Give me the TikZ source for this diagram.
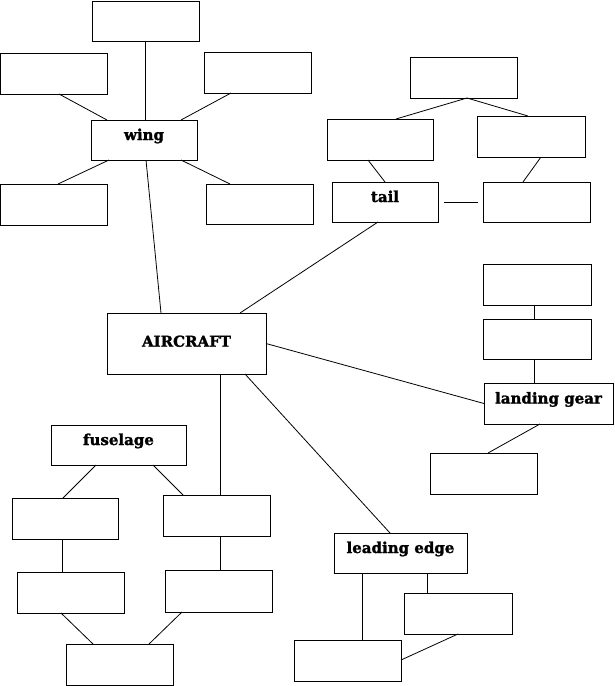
\documentclass[tikz,border=0pt]{standalone}
\usepackage{fontspec}
\setmainfont{DejaVu Serif}[BoldFeatures={FakeBold=1.6}]
\newcommand\bxn[7][]{\node[box,#1,minimum width={(#5-#3)*1pt},minimum height={(#6-#4)*1pt}] (#2) at ({(#3+#5)/2},{(#4+#6)/2}) {#7};}
\begin{document}
\begin{tikzpicture}[x=1pt,y=-1pt,
  box/.style={draw=black,line width=0.8pt,inner sep=0pt,outer sep=0pt,
    font=\fontsize{15}{17}\selectfont\bfseries,text height=5pt,text depth=5pt},
  capl/.style={text height=8pt,text depth=1.6pt},
  conn/.style={draw=black,line width=0.8pt}]
\useasboundingbox (0,0) rectangle (614,686);
% wing group
\bxn{wtop}{92}{1}{199}{41}{}
\bxn{wul}{0.5}{53}{107}{94}{}
\bxn{wur}{204}{52}{311}{93}{}
\bxn{wing}{91}{120}{197}{160}{wing}
\bxn{wll}{0.5}{184}{107}{225}{}
\bxn{wlr}{206}{184}{313}{224}{}
% tail group
\bxn{ttop}{410}{57}{517}{98}{}
\bxn{tml}{327}{119}{433}{160}{}
\bxn{tmr}{477}{116}{585}{157}{}
\bxn{tail}{332}{182}{438}{222}{tail}
\bxn{tlr}{483}{182}{590}{222}{}
% aircraft
\bxn[capl]{air}{107}{313}{266}{374}{AIRCRAFT}
% landing gear group
\bxn{gtop}{483}{264}{591}{305}{}
\bxn{gmid}{483}{319}{591}{359}{}
\bxn{gear}{484}{383}{613}{424}{landing gear}
\bxn{glow}{430}{453}{537}{494}{}
% fuselage group
\bxn{fus}{51}{425}{186}{465}{fuselage}
\bxn{fl1}{12}{498}{118}{539}{}
\bxn{fr1}{163}{495}{270}{536}{}
\bxn{fl2}{17}{572}{124}{613}{}
\bxn{fr2}{165}{570}{272}{612}{}
\bxn{fbot}{66}{644}{173}{685}{}
% leading edge group
\bxn{lead}{334}{533}{467}{573}{leading edge}
\bxn{lr}{404}{593}{512}{634}{}
\bxn{lbot}{294}{640}{401}{681}{}
% connectors
\path[conn] (wtop.south) -- (wtop.south |- wing.north);
\path[conn] ([xshift=58.5pt]wul.south west) -- ([xshift=16pt]wing.north west);
\path[conn] ([xshift=27pt]wur.south west) -- ([xshift=90pt]wing.north west);
\path[conn] ([xshift=18pt]wing.south west) -- ([xshift=57.5pt]wll.north west);
\path[conn] ([xshift=90pt]wing.south west) -- ([xshift=24pt]wlr.north west);
\path[conn] ([xshift=55pt]wing.south west) -- ([xshift=54pt]air.north west);
\path[conn] ([xshift=57pt]ttop.south west) -- ([xshift=69pt]tml.north west);
\path[conn] ([xshift=57pt]ttop.south west) -- ([xshift=51pt]tmr.north west);
\path[conn] ([xshift=41pt]tml.south west) -- ([xshift=53pt]tail.north west);
\path[conn] ([xshift=64pt]tmr.south west) -- ([xshift=40pt]tlr.north west);
\path[conn] ([xshift=6pt]tail.east) -- ([xshift=-5pt]tlr.west);
\path[conn] ([xshift=46pt]tail.south west) -- ([xshift=133pt]air.north west);
\path[conn] (air.east) -- (gear.west);
\path[conn] ([xshift=51pt]gtop.south west) -- ([xshift=51pt]gmid.north west);
\path[conn] ([xshift=51pt]gmid.south west) -- ([xshift=50pt]gear.north west);
\path[conn] ([xshift=56pt]gear.south west) -- ([xshift=58pt]glow.north west);
\path[conn] ([xshift=113pt]air.south west) -- ([xshift=57pt]fr1.north west);
\path[conn] ([xshift=138pt]air.south west) -- ([xshift=56pt]lead.north west);
\path[conn] ([xshift=45pt]fus.south west) -- ([xshift=51pt]fl1.north west);
\path[conn] ([xshift=102pt]fus.south west) -- ([xshift=20pt]fr1.north west);
\path[conn] ([xshift=50pt]fl1.south west) -- ([xshift=45pt]fl2.north west);
\path[conn] ([xshift=57pt]fr1.south west) -- ([xshift=55pt]fr2.north west);
\path[conn] ([xshift=44pt]fl2.south west) -- ([xshift=27pt]fbot.north west);
\path[conn] ([xshift=17pt]fr2.south west) -- ([xshift=83pt]fbot.north west);
\path[conn] ([xshift=28pt]lead.south west) -- ([xshift=68pt]lbot.north west);
\path[conn] ([xshift=93pt]lead.south west) -- ([xshift=23pt]lr.north west);
\path[conn] ([xshift=54pt]lr.south west) -- ([yshift=-20pt]lbot.north east);
\end{tikzpicture}
\end{document}
